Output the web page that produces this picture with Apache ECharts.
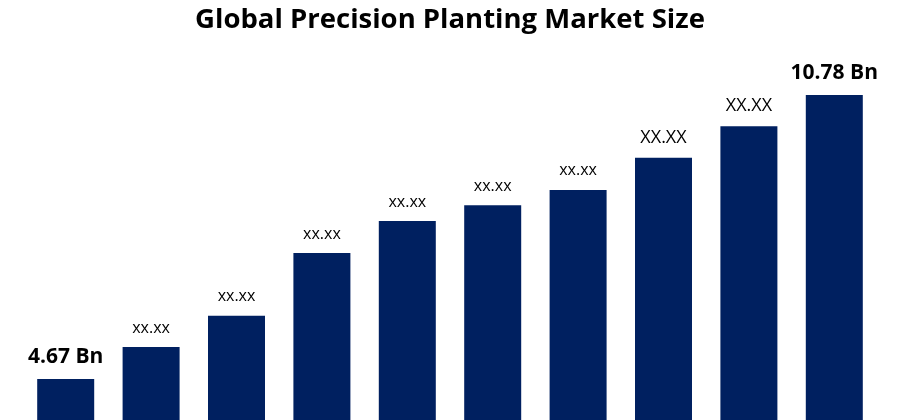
<!DOCTYPE html>
<html>
<head>
<meta charset="utf-8">
<style>html,body{margin:0;padding:0;background:#fff}#main{width:900px;height:420px}</style>
<script src="https://cdn.jsdelivr.net/npm/echarts@6/dist/echarts.min.js"></script>
</head>
<body>
<div id="main"></div>
<script>
var titleText = 'Global Precision Planting Market Size';
var categories = ['1','2','3','4','5','6','7','8','9','10'];
var values = [4.67, 5.36, 6.03, 7.38, 8.07, 8.41, 8.74, 9.43, 10.11, 10.78];
var labels = ['4.67 Bn','xx.xx','xx.xx','xx.xx','xx.xx','xx.xx','xx.xx','XX.XX','XX.XX','10.78 Bn'];

var font = '"Open Sans"';

function labelStyle(text){
  if(text.indexOf('Bn') > 0) return {fontSize:21, fontWeight:'bold', distance:12};
  if(text == 'XX.XX') return {fontSize:18, fontWeight:'normal', distance:11};
  return {fontSize:16, fontWeight:'normal', distance:11};
}

var chart = echarts.init(document.getElementById('main'));
chart.setOption({
  animation:false,
  title:{
    text:titleText, left:'center', top:1,
    textStyle:{fontFamily:font, fontSize:27.5, fontWeight:'bold', color:'#000'}
  },
  grid:{left:23, right:23, top:0, bottom:0},
  xAxis:{
    type:'category', data:categories,
    axisLine:{show:false}, axisTick:{show:false}, axisLabel:{show:false}
  },
  yAxis:{
    type:'value', min:3.79, max:12.825,
    axisLine:{show:false}, axisTick:{show:false}, axisLabel:{show:false}, splitLine:{show:false}
  },
  series:[{
    type:'bar', barWidth:57,
    itemStyle:{color:'#002060'},
    data:values.map(function(v,i){
      var s = labelStyle(labels[i]);
      return {value:v, label:{
        show:true, position:'top', formatter:labels[i],
        fontFamily:font, color:'#000',
        fontSize:s.fontSize, fontWeight:s.fontWeight, distance:s.distance
      }};
    })
  }]
});
</script>
</body>
</html>
